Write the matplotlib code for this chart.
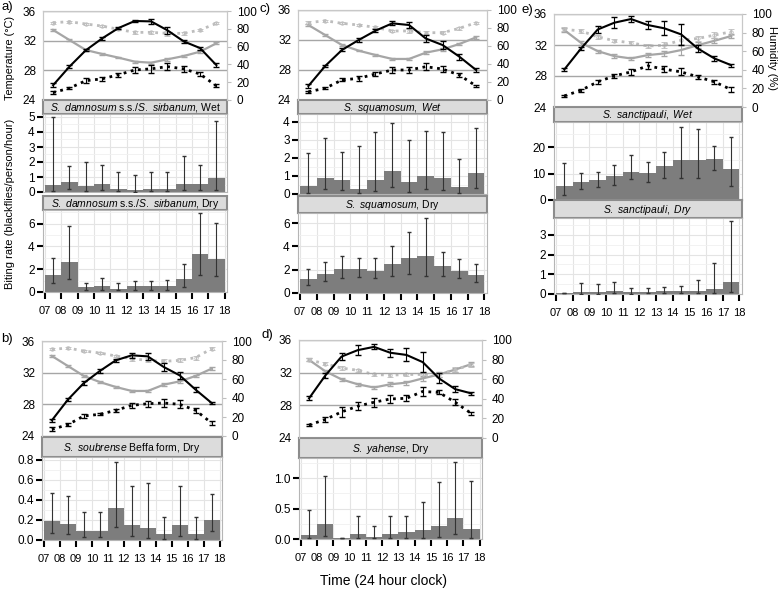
import numpy as np
import matplotlib.pyplot as plt

plt.rcParams['font.family'] = ['Liberation Sans', 'DejaVu Sans']
plt.rcParams['mathtext.fontset'] = 'custom'
plt.rcParams['mathtext.rm'] = 'Liberation Sans'
plt.rcParams['mathtext.it'] = 'Liberation Sans:italic'

W, H = 778, 589
hours = np.arange(7, 18)
mid = hours + 0.5
hour_labels = ['07', '08', '09', '10', '11', '12', '13', '14', '15', '16', '17', '18']

# ---- climate: temperature (solid / dotted) and humidity (solid / dotted) ----
temp_a = [26.0, 28.5, 30.7, 32.3, 33.7, 34.65, 34.6, 33.4, 31.9, 31.0, 28.7]
temp_a_err = [0.3, 0.2, 0.15, 0.15, 0.15, 0.2, 0.3, 0.5, 0.2, 0.2, 0.25]
temp2_a = [25.0, 25.6, 26.6, 26.85, 27.4, 28.05, 28.2, 28.5, 28.2, 27.5, 25.9]
temp2_a_err = [0.15, 0.15, 0.3, 0.3, 0.3, 0.4, 0.5, 0.5, 0.45, 0.3, 0.2]
hum_a = [78.7, 67.4, 56.2, 51.7, 47.6, 43.1, 41.9, 45.7, 49.4, 54.3, 63.7]
hum_a_err = [0.8, 0.8, 0.8, 0.8, 0.8, 1, 1, 1.5, 1.5, 1.5, 1]
hum2_a = [86.9, 88.0, 85.4, 83.1, 79.4, 76.0, 76.0, 74.9, 74.9, 78.7, 86.1]
hum2_a_err = [1.2, 1, 1, 1, 1, 1.5, 1.5, 2.5, 2, 1.5, 1]

temp_c = [25.87, 28.53, 30.67, 32.0, 33.24, 34.22, 34.0, 32.2, 31.33, 29.78, 28.0]
temp_c_err = [0.3, 0.15, 0.2, 0.2, 0.2, 0.25, 0.4, 0.5, 0.5, 0.4, 0.3]
temp2_c = [25.1, 25.56, 26.67, 26.89, 27.47, 28.0, 28.0, 28.44, 28.13, 27.33, 25.87]
temp2_c_err = [0.15, 0.15, 0.2, 0.3, 0.3, 0.4, 0.45, 0.5, 0.4, 0.3, 0.15]
hum_c = [83.3, 72.2, 61.1, 54.8, 50.0, 45.6, 45.6, 52.6, 56.3, 62.2, 69.6]
hum_c_err = [1, 0.8, 0.8, 0.8, 0.8, 0.8, 0.8, 1.5, 1.5, 1.5, 1.5]
hum2_c = [85.9, 88.1, 85.2, 83.3, 80.7, 76.7, 76.7, 74.8, 74.8, 79.6, 85.9]
hum2_c_err = [1.5, 1, 1, 1, 1, 1.5, 2, 2, 2, 1.5, 1]

temp_e = [28.84, 31.55, 34.0, 34.88, 35.35, 34.58, 34.15, 33.37, 31.55, 30.26, 29.4]
temp_e_err = [0.25, 0.2, 0.5, 0.7, 0.4, 0.5, 0.9, 1.4, 0.5, 0.3, 0.2]
temp2_e = [25.43, 26.16, 27.24, 28.02, 28.53, 29.31, 28.88, 28.53, 27.89, 27.24, 26.25]
temp2_e_err = [0.1, 0.2, 0.3, 0.25, 0.35, 0.45, 0.35, 0.45, 0.3, 0.3, 0.3]
hum_e = [82.7, 69.0, 60.1, 54.7, 52.2, 55.8, 57.6, 61.2, 66.5, 71.2, 76.3]
hum_e_err = [2, 2, 1.5, 2, 2, 2.5, 3, 5, 3, 2.5, 2]
hum2_e = [83.5, 81.7, 75.5, 71.2, 69.1, 65.5, 66.5, 71.9, 73.7, 77.3, 80.9]
hum2_e_err = [2, 2, 2, 1.5, 2, 2.5, 3, 4, 3, 3, 3]

temp_b = [25.98, 28.59, 30.69, 32.21, 33.56, 34.19, 34.06, 32.72, 31.66, 29.85, 28.17]
temp_b_err = [0.2, 0.15, 0.2, 0.2, 0.2, 0.35, 0.4, 0.45, 0.4, 0.3, 0.15]
temp2_b = [24.84, 25.43, 26.53, 26.74, 27.24, 27.87, 28.08, 28.17, 28.0, 27.24, 25.64]
temp2_b_err = [0.25, 0.15, 0.2, 0.15, 0.2, 0.3, 0.4, 0.5, 0.5, 0.35, 0.25]
hum_b = [84.2, 73.7, 63.2, 56.8, 51.6, 47.4, 47.4, 54.0, 57.5, 63.2, 70.9]
hum_b_err = [1, 0.8, 0.8, 0.8, 0.8, 0.8, 0.8, 1.5, 1.5, 1.5, 1.5]
hum2_b = [91.2, 92.6, 89.5, 87.4, 84.2, 81.4, 79.6, 78.6, 79.6, 82.5, 91.9]
hum2_b_err = [1, 1, 1.5, 1.5, 1.5, 2, 2, 2, 2, 2, 1.5]

temp_d = [28.86, 31.65, 33.97, 34.76, 35.16, 34.44, 34.17, 33.29, 31.3, 29.98, 29.46]
temp_d_err = [0.25, 0.3, 0.45, 0.6, 0.3, 0.5, 0.8, 1.2, 0.6, 0.35, 0.2]
temp2_d = [25.59, 26.27, 27.19, 27.9, 28.38, 28.78, 28.86, 29.7, 29.58, 28.38, 26.99]
temp2_d_err = [0.1, 0.25, 0.65, 0.5, 0.55, 0.5, 0.35, 0.6, 0.25, 0.35, 0.2]
hum_d = [79.7, 68.1, 59.8, 54.8, 51.5, 54.8, 56.5, 60.8, 64.8, 69.8, 75.4]
hum_d_err = [1.5, 1.5, 1.5, 1.5, 1.5, 2, 2, 2.5, 3, 2, 2]
hum2_d = [79.7, 75.7, 71.4, 69.1, 64.8, 64.1, 64.8, 64.8, 64.8, 69.8, 74.8]
hum2_d_err = [1.5, 1.5, 2, 1.5, 2, 2, 2, 2.5, 3, 2.5, 2]

# ---- biting rates (mean, lower, upper) ----
bite_a_wet = [0.44, 0.64, 0.38, 0.56, 0.2, 0.16, 0.2, 0.2, 0.56, 0.56, 0.91]
bite_a_wet_lo = [0.09, 0.2, 0.09, 0.16, 0.04, 0.02, 0.09, 0.09, 0.16, 0.16, 0.16]
bite_a_wet_hi = [5.0, 1.71, 2.0, 1.78, 1.33, 1.13, 1.33, 1.33, 2.4, 1.78, 4.73]
bite_a_dry = [1.53, 2.65, 0.41, 0.56, 0.26, 0.56, 0.56, 0.56, 1.15, 3.3, 2.94]
bite_a_dry_lo = [0.79, 1.15, 0.2, 0.2, 0.15, 0.2, 0.2, 0.2, 0.44, 1.53, 1.38]
bite_a_dry_hi = [2.97, 5.8, 0.82, 1.2, 0.8, 0.94, 0.94, 1.03, 2.44, 6.97, 6.03]

bite_c_wet = [0.46, 0.9, 0.77, 0.28, 0.77, 1.27, 0.66, 1.01, 0.9, 0.39, 1.18]
bite_c_wet_lo = [0.07, 0.26, 0.22, 0.04, 0.17, 0.37, 0.11, 0.26, 0.22, 0.07, 0.31]
bite_c_wet_hi = [2.3, 3.13, 2.34, 2.67, 3.45, 3.96, 3.0, 3.48, 3.45, 1.92, 3.69]
bite_c_dry = [1.22, 1.64, 2.09, 2.04, 1.92, 2.49, 2.97, 3.17, 2.35, 1.92, 1.58]
bite_c_dry_lo = [0.65, 0.99, 1.27, 1.33, 1.25, 1.5, 1.61, 1.5, 1.47, 1.25, 0.93]
bite_c_dry_hi = [2.09, 2.63, 3.17, 3.03, 2.97, 4.05, 5.21, 6.45, 3.51, 2.94, 2.46]

bite_e_wet = [5.4, 6.7, 7.6, 9.0, 10.5, 10.3, 12.7, 15.3, 15.0, 15.4, 11.8]
bite_e_wet_lo = [1.8, 4.1, 5.1, 5.6, 7.9, 6.9, 8.5, 8.2, 8.2, 11.2, 5.4]
bite_e_wet_hi = [14.0, 10.3, 10.5, 13.3, 16.9, 14.2, 18.1, 27.6, 26.8, 20.5, 23.7]
bite_e_dry = [0.05, 0.12, 0.12, 0.17, 0.09, 0.08, 0.14, 0.14, 0.15, 0.25, 0.6]
bite_e_dry_lo = [0.03, 0.02, 0.02, 0.03, 0.02, 0.03, 0.05, 0.05, 0.05, 0.04, 0.1]
bite_e_dry_hi = [0.06, 0.54, 0.51, 0.63, 0.29, 0.29, 0.34, 0.42, 0.71, 1.56, 3.73]

bite_b = [0.19, 0.157, 0.09, 0.09, 0.323, 0.15, 0.123, 0.06, 0.15, 0.06, 0.203]
bite_b_lo = [0.07, 0.06, 0.03, 0.03, 0.13, 0.04, 0.02, 0.01, 0.04, 0.01, 0.09]
bite_b_hi = [0.467, 0.443, 0.277, 0.277, 0.783, 0.543, 0.567, 0.233, 0.543, 0.233, 0.457]

bite_d = [0.07, 0.25, 0.01, 0.09, 0.03, 0.09, 0.12, 0.15, 0.21, 0.35, 0.17]
bite_d_lo = [0.02, 0.05, 0.01, 0.02, 0.02, 0.02, 0.02, 0.02, 0.03, 0.08, 0.02]
bite_d_hi = [0.48, 1.03, 0.01, 0.38, 0.22, 0.38, 0.38, 0.6, 0.94, 1.27, 0.95]

XLIM = (6.88, 18.15)
fig = plt.figure(figsize=(W / 100, H / 100), dpi=100)


def rect(x0, y0, x1, y1):
    return [x0 / W, 1 - y1 / H, (x1 - x0) / W, (y1 - y0) / H]


def climate(box, t, te, t2, t2e, h, he, h2, h2e):
    ax = fig.add_axes(rect(*box))
    ax2 = ax.twinx()
    ax.set_zorder(ax2.get_zorder() + 1)
    ax.patch.set_visible(False)
    ax.set_xlim(XLIM)
    ax.set_ylim(24, 36)
    ax.set_yticks([24, 28, 32, 36])
    ax.set_xticks([])
    ax.grid(axis='y', color='#a6a6a6', lw=1)
    ax.tick_params(axis='y', length=0, labelsize=8.5, pad=5)
    ax2.set_ylim(0, 100)
    ax2.set_yticks(range(0, 101, 20))
    ax2.tick_params(axis='y', length=3, color='#bfbfbf', labelsize=8.5, pad=4)
    for a in (ax, ax2):
        for s in a.spines.values():
            s.set_color('#c8c8c8')
        a.spines['bottom'].set_visible(False)
    ax2.errorbar(mid, h, yerr=he, color='#a6a6a6', lw=1.6, capsize=2.5, elinewidth=0.8)
    ax2.errorbar(mid, h2, yerr=h2e, color='#bdbdbd', ls=':', lw=2, capsize=2.5, elinewidth=0.8,
                 marker='o', ms=2.5, mfc='none', mew=0.6)
    ax.errorbar(mid, t2, yerr=t2e, color='black', ls=':', lw=2, capsize=2.5, elinewidth=0.8)
    ax.errorbar(mid, t, yerr=te, color='black', lw=1.5, capsize=2.5, elinewidth=0.8)


def strip(box, label):
    s = fig.add_axes(rect(*box))
    s.set_xticks([])
    s.set_yticks([])
    s.set_facecolor('#dcdcdc')
    for sp in s.spines.values():
        sp.set_color('#8c8c8c')
        sp.set_linewidth(1.5)
    s.text(0.5, 0.45, label, ha='center', va='center', fontsize=7.5, transform=s.transAxes)


def bars(box, v, lo, hi, top, yticks, ylabels):
    v, lo, hi = np.array(v), np.array(lo), np.array(hi)
    ax = fig.add_axes(rect(*box))
    ax.bar(hours, v, width=1, align='edge', color='#7d7d7d', zorder=2)
    ax.errorbar(mid, v, yerr=[v - lo, hi - v], fmt='none', ecolor='#333333',
                elinewidth=0.8, capsize=1.5, zorder=3)
    ax.set_xlim(XLIM)
    ax.set_ylim(0, top)
    ax.set_xticks(np.arange(7, 19))
    ax.set_yticks(yticks)
    ax.set_yticklabels(ylabels)
    step = yticks[1] - yticks[0]
    ax.set_yticks(np.arange(step / 2, top, step), minor=True)
    ax.grid(which='major', color='#e4e4e4', lw=0.8)
    ax.grid(which='minor', axis='y', color='#f0f0f0', lw=0.6)
    ax.set_axisbelow(True)
    for s in ax.spines.values():
        s.set_color('#b5b5b5')
    ax.tick_params(axis='y', which='major', length=4, width=1.5, color='black', labelsize=8.5, pad=2)
    ax.tick_params(axis='y', which='minor', length=0)
    ax.tick_params(axis='x', length=0, labelbottom=False)
    return ax


def bottom_ticks(ax):
    ax.set_xticklabels(hour_labels)
    ax.tick_params(axis='x', length=5, width=1.5, color='black', labelsize=8, pad=5, labelbottom=True)


DAM = r'$\it{S.\ damnosum}$ s.s./$\it{S.\ sirbanum}$'

# panel a
climate((43, 11, 227, 100), temp_a, temp_a_err, temp2_a, temp2_a_err,
        hum_a, hum_a_err, hum2_a, hum2_a_err)
strip((43, 100, 227, 114), DAM + ', Wet')
bars((43, 114, 227, 192), bite_a_wet, bite_a_wet_lo, bite_a_wet_hi, 5.2,
     [0, 1, 2, 3, 4, 5], ['0', '1', '2', '3', '4', '5'])
strip((43, 196, 227, 210), DAM + ', Dry')
ax = bars((43, 210, 227, 292), bite_a_dry, bite_a_dry_lo, bite_a_dry_hi, 7.2,
          [0, 2, 4, 6], ['0', '2', '4', '6'])
bottom_ticks(ax)

# panel c
climate((298, 10, 487, 100), temp_c, temp_c_err, temp2_c, temp2_c_err,
        hum_c, hum_c_err, hum2_c, hum2_c_err)
strip((298, 100, 487, 114), r'$\it{S.\ squamosum,\ Wet}$')
bars((298, 114, 487, 194), bite_c_wet, bite_c_wet_lo, bite_c_wet_hi, 4.44,
     [0, 1, 2, 3, 4], ['0', '1', '2', '3', '4'])
strip((298, 196, 487, 213), r'$\it{S.\ squamosum}$, Dry')
ax = bars((298, 213, 487, 293), bite_c_dry, bite_c_dry_lo, bite_c_dry_hi, 6.86,
          [0, 2, 4, 6], ['0', '2', '4', '6'])
bottom_ticks(ax)

# panel e
climate((554, 14, 742, 107), temp_e, temp_e_err, temp2_e, temp2_e_err,
        hum_e, hum_e_err, hum2_e, hum2_e_err)
strip((554, 107, 742, 122), r'$\it{S.\ sanctipauli,\ Wet}$')
bars((554, 122, 742, 200), bite_e_wet, bite_e_wet_lo, bite_e_wet_hi, 29.5,
     [0, 10, 20], ['0', '10', '20'])
strip((554, 200, 742, 218), r'$\it{S.\ sanctipauli,\ Dry}$')
ax = bars((554, 218, 742, 294), bite_e_dry, bite_e_dry_lo, bite_e_dry_hi, 3.86,
          [0, 1, 2, 3], ['0', '1', '2', '3'])
bottom_ticks(ax)

# panel b
climate((42, 341, 222, 436), temp_b, temp_b_err, temp2_b, temp2_b_err,
        hum_b, hum_b_err, hum2_b, hum2_b_err)
strip((42, 437, 222, 457), r'$\it{S.\ soubrense}$ Beffa form, Dry')
ax = bars((42, 457, 222, 540), bite_b, bite_b_lo, bite_b_hi, 0.83,
          [0, 0.2, 0.4, 0.6, 0.8], ['0.0', '0.2', '0.4', '0.6', '0.8'])
bottom_ticks(ax)

# panel d
climate((299, 340, 482, 438), temp_d, temp_d_err, temp2_d, temp2_d_err,
        hum_d, hum_d_err, hum2_d, hum2_d_err)
strip((299, 438, 482, 458), r'$\it{S.\ yahense}$, Dry')
ax = bars((299, 458, 482, 539), bite_d, bite_d_lo, bite_d_hi, 1.33,
          [0, 0.5, 1.0], ['0.0', '0.5', '1.0'])
bottom_ticks(ax)


def ftext(x, y, s, **kw):
    fig.text(x / W, 1 - y / H, s, **kw)


ftext(1, 7, 'a)', fontsize=9.5, va='center')
ftext(260, 9, 'c)', fontsize=9.5, va='center')
ftext(521, 10, 'e)', fontsize=9.5, va='center')
ftext(1, 339, 'b)', fontsize=9.5, va='center')
ftext(261, 335, 'd)', fontsize=9.5, va='center')
ftext(10, 58, 'Temperature (°C)', rotation=90, fontsize=7.8, ha='center', va='center')
ftext(10, 204, 'Biting rate (blackflies/person/hour)', rotation=90, fontsize=8,
      ha='center', va='center')
ftext(772, 58, 'Humidity (%)', rotation=270, fontsize=8, ha='center', va='center')
ftext(383, 581, 'Time (24 hour clock)', fontsize=10, ha='center', va='center')

fig.savefig('out.png', dpi=100)
